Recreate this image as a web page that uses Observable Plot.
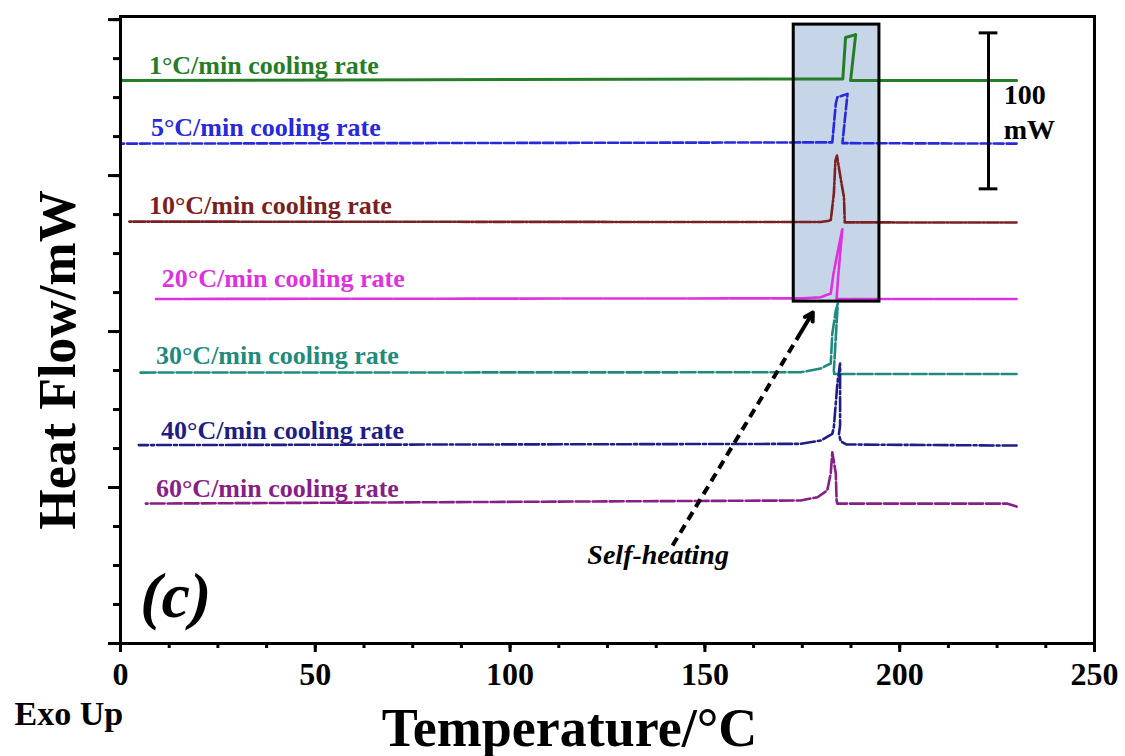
<!DOCTYPE html>
<html>
<head>
<meta charset="utf-8">
<script src="https://cdn.jsdelivr.net/npm/d3@7"></script>
<script src="https://cdn.jsdelivr.net/npm/@observablehq/plot@0.6"></script>
<style>
  body { margin: 0; background: #fff; }
  #chart svg { display: block; }
</style>
</head>
<body>
<div id="chart"></div>
<script>
const serif = '"Liberation Serif", "Times New Roman", serif';

// Cooling rates and their styling
const rateLabels = [
  "1°C/min cooling rate", "5°C/min cooling rate", "10°C/min cooling rate",
  "20°C/min cooling rate", "30°C/min cooling rate", "40°C/min cooling rate",
  "60°C/min cooling rate"
];
const rateColors = ["#267d28", "#2828dc", "#7a1f22", "#e031e0", "#1f8a7e", "#1e1e84", "#871f87"];
const rateDash = [null, "10,3", "12,2,2,2", "40,2", "15,3", "14,3,3,3", "14,3"];
const rateWidth = [3, 2.6, 2.6, 2.6, 2.6, 2.6, 2.6];

// DSC cooling traces in recording order (hot -> cold): temperature (°C), stacked heat flow (mW)
const temp1 = [230, 187.4, 188.7, 186.1, 185.4, 0];
const flow1 = [361, 361, 390.4, 388.5, 362, 361];

const temp5 = [230, 185.3, 186.6, 184.0, 183.6, 182.7, 0];
const flow5 = [320.5, 320.8, 352.4, 350.2, 346.2, 321.3, 320.5];

const temp10 = [230, 185.9, 185.7, 184.8, 183.9, 183.5, 183.1, 182.3, 179.7, 2.2];
const flow10 = [269.9, 270.0, 286.1, 298.9, 312.8, 309.6, 288.5, 271.2, 270.2, 270.5];

const temp20 = [230, 183.8, 184.2, 184.9, 185.3, 184.0, 183.0, 182.3, 179.7, 175, 9.1];
const flow20 = [220.9, 220.9, 235, 255, 266, 250, 237.2, 224.4, 222, 221.3, 220.9];

const temp30 = [230, 183.2, 183.1, 184.1, 183.6, 182.7, 182.3, 179.7, 174.6, 4.5];
const flow30 = [172.8, 172.8, 175, 217.9, 213.5, 198.7, 179.5, 176.3, 173.9, 173.7];

const temp40 = [230, 186.3, 184.9, 184.4, 184.7, 184.7, 184.0, 183.1, 182.7, 179.7, 174.6, 4.7];
const flow40 = [126.9, 127.6, 129.5, 134, 140, 179.5, 166.7, 138.7, 134.4, 130.1, 128, 127.2];

const temp60 = [230, 227.5, 184, 183.8, 183.6, 182.7, 182.3, 181.4, 178.9, 174.6, 6.5];
const flow60 = [87.8, 89.7, 89.7, 91.7, 109, 122.6, 109, 98.1, 93.8, 91.7, 89.7];

const temps = [temp1, temp5, temp10, temp20, temp30, temp40, temp60];
const flows = [flow1, flow5, flow10, flow20, flow30, flow40, flow60];

// Curve label anchors (text baseline, left edge)
const labelTemp = [7.3, 7.8, 7.3, 10.6, 9.1, 10.4, 9.1];
const labelFlow = [365.2, 325.6, 275.4, 228.4, 179.3, 131.2, 93.8];

// Axis ticks
const xTicks = [0, 50, 100, 150, 200, 250];
const xMinorTicks = d3.range(0, 250.01, 12.5);
const yTicks = [0, 100, 200, 300, 400];
const yMinorTicks = d3.range(0, 402, 25);

// Highlighted self-heating region
const boxTemp = [172.8, 194.8];
const boxFlow = [219.2, 396.8];

// 100 mW scale bar
const scaleBarTemp = [222.8];
const scaleBarFlow = [291.5, 391.5];
const scaleBarCapTemp = [220.4, 225.2];
const scaleBarText = ["100", "mW"];
const scaleBarTextTemp = [226.7, 226.7];
const scaleBarTextFlow = [346.0, 323.5];

// Self-heating annotation arrow (tail -> head)
const arrowTemp = [141.7, 177.7];
const arrowFlow = [62.8, 212.2];
const noteText = "Self-heating";
const noteTemp = 138.0;
const noteFlow = 51.1;

// Panel tag
const panelTag = "(c)";
const panelTemp = 14.2;
const panelFlow = 17;

const lineMarks = temps.map((t, i) =>
  Plot.line(d3.zip(t, flows[i]), {
    x: d => d[0], y: d => d[1],
    stroke: rateColors[i], strokeWidth: rateWidth[i],
    strokeDasharray: rateDash[i] ?? undefined,
    strokeLinejoin: "round"
  })
);

const labelMarks = rateLabels.map((lab, i) =>
  Plot.text([lab], {
    x: () => labelTemp[i], y: () => labelFlow[i], text: d => d,
    textAnchor: "start", lineAnchor: "bottom",
    fill: rateColors[i], fontSize: 26, fontWeight: "bold"
  })
);

// Head segment of the arrow drawn solid, shaft dashed
const headFrac = 0.9;
const headStart = [
  arrowTemp[0] + headFrac * (arrowTemp[1] - arrowTemp[0]),
  arrowFlow[0] + headFrac * (arrowFlow[1] - arrowFlow[0])
];

const chart = Plot.plot({
  width: 1125,
  height: 756,
  marginLeft: 120,
  marginRight: 31,
  marginTop: 16,
  marginBottom: 113,
  style: { fontFamily: serif, fontWeight: "bold", color: "black", background: "white" },
  x: { domain: [0, 250] },
  y: { domain: [0, 402] },
  marks: [
    Plot.rect([0], { x1: () => boxTemp[0], x2: () => boxTemp[1], y1: () => boxFlow[0], y2: () => boxFlow[1], fill: "#c6d5e8" }),
    ...lineMarks,
    Plot.rect([0], { x1: () => boxTemp[0], x2: () => boxTemp[1], y1: () => boxFlow[0], y2: () => boxFlow[1], fill: "none", stroke: "black", strokeWidth: 3 }),
    ...labelMarks,
    // scale bar
    Plot.ruleX(scaleBarTemp, { x: d => d, y1: () => scaleBarFlow[0], y2: () => scaleBarFlow[1], stroke: "black", strokeWidth: 3 }),
    Plot.ruleY(scaleBarFlow, { y: d => d, x1: () => scaleBarCapTemp[0], x2: () => scaleBarCapTemp[1], stroke: "black", strokeWidth: 3 }),
    Plot.text(scaleBarText, { x: (d, i) => scaleBarTextTemp[i], y: (d, i) => scaleBarTextFlow[i], text: d => d, textAnchor: "start", lineAnchor: "bottom", fontSize: 28, fill: "black" }),
    // self-heating arrow
    Plot.link([0], { x1: () => arrowTemp[0], y1: () => arrowFlow[0], x2: () => headStart[0], y2: () => headStart[1], stroke: "black", strokeWidth: 4, strokeDasharray: "9,6" }),
    Plot.arrow([0], { x1: () => headStart[0], y1: () => headStart[1], x2: () => arrowTemp[1], y2: () => arrowFlow[1], stroke: "black", strokeWidth: 4, headLength: 16 }),
    Plot.text([noteText], { x: () => noteTemp, y: () => noteFlow, text: d => d, lineAnchor: "bottom", fontSize: 28, fontStyle: "italic", fill: "black" }),
    Plot.text([panelTag], { x: () => panelTemp, y: () => panelFlow, text: d => d, lineAnchor: "bottom", fontSize: 64, fontStyle: "italic", fill: "black" }),
    // axes
    Plot.axisX(xMinorTicks, { tickSize: 5, tickFormat: () => "", strokeWidth: 3, label: null }),
    Plot.axisX(xTicks, { tickSize: 9, tickPadding: 10, fontSize: 32, strokeWidth: 3, label: null }),
    Plot.axisY(yMinorTicks, { tickSize: 7, tickFormat: () => "", strokeWidth: 3, label: null }),
    Plot.axisY(yTicks, { tickSize: 12, tickFormat: () => "", strokeWidth: 3, label: null }),
    Plot.frame({ stroke: "black", strokeWidth: 3 }),
    // axis titles
    Plot.text(["Temperature/°C"], { frameAnchor: "bottom", text: d => d, dx: -38, dy: 102, lineAnchor: "bottom", fontSize: 54, fill: "black" }),
    Plot.text(["Heat Flow/mW"], { frameAnchor: "left", text: d => d, dx: -62, dy: 30, rotate: -90, textAnchor: "middle", lineAnchor: "middle", fontSize: 52, fill: "black" }),
    Plot.text(["Exo Up"], { frameAnchor: "bottom-left", text: d => d, dx: -106, dy: 81, textAnchor: "start", lineAnchor: "bottom", fontSize: 34, fill: "black" })
  ]
});

document.getElementById("chart").append(chart);
</script>
</body>
</html>
